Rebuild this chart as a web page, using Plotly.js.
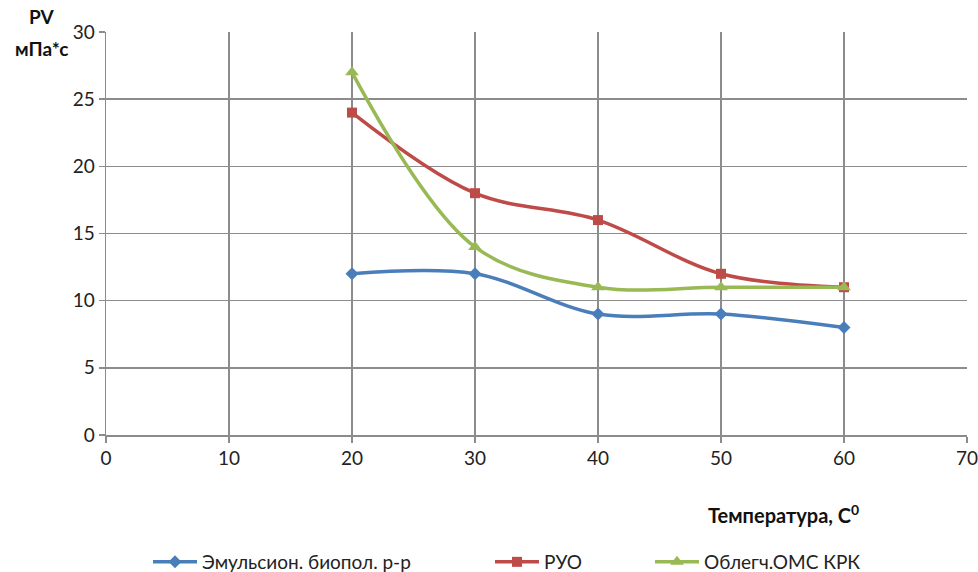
<!DOCTYPE html>
<html><head><meta charset="utf-8">
<script src="https://cdn.plot.ly/plotly-3.0.1.min.js"></script>
<style>body{margin:0;background:#fff}#c{width:978px;height:572px}</style>
</head><body><div id="c"></div>
<script>
const temps = [20, 30, 40, 50, 60];
const emulsion = [12, 12, 9, 9, 8];
const ruo = [24, 18, 16, 12, 11];
const oblegch = [27, 14, 11, 11, 11];
const names = ['Эмульсион. биопол. р-р', 'РУО', 'Облегч.ОМС КРК'];
const colors = ['#4A7EBB', '#BE4B48', '#98B954'];
const symbols = ['diamond', 'square', 'triangle-up'];
const series = [emulsion, ruo, oblegch];
const font = 'Lato, "Open Sans", sans-serif';

const traces = series.map((ys, i) => ({
  x: temps, y: ys, name: names[i], type: 'scatter', mode: 'lines+markers',
  line: {color: colors[i], width: 3.5, shape: 'spline', smoothing: 1},
  marker: {color: colors[i], symbol: symbols[i], size: i === 2 ? 12 : 10},
  legend: i === 0 ? 'legend' : 'legend' + (i + 1)
}));

const legBase = {orientation: 'h', xref: 'container', yref: 'container', yanchor: 'middle',
  y: (572 - 562) / 572, font: {family: font, size: 19, color: '#222'}, bgcolor: 'rgba(0,0,0,0)', itemwidth: 44};

const plotTop = 32, plotBottom = 435, plotLeft = 106, plotW = 861;
const py = p => (plotBottom - p) / (plotBottom - plotTop);
const px = p => (p - plotLeft) / plotW;

const layout = {
  width: 978, height: 572,
  margin: {l: 106, r: 11, t: 32, b: 137, autoexpand: false},
  paper_bgcolor: '#fff', plot_bgcolor: '#fff',
  font: {family: font, size: 19, color: '#222'},
  showlegend: true,
  legend: Object.assign({}, legBase, {x: 148 / 978}),
  legend2: Object.assign({}, legBase, {x: 490 / 978}),
  legend3: Object.assign({}, legBase, {x: 650 / 978}),
  xaxis: {range: [0, 70], dtick: 10, tick0: 0, showgrid: true, gridcolor: '#8c8c8c', gridwidth: 1.5,
    showline: true, linecolor: '#8c8c8c', linewidth: 1.5, zeroline: false, automargin: false,
    ticks: 'outside', ticklen: 6, tickcolor: '#8c8c8c', tickwidth: 1.5, ticklabeloverflow: 'allow',
    tickfont: {family: font, size: 19, color: '#222'}},
  yaxis: {range: [0, 30], dtick: 5, tick0: 0, showgrid: true, gridcolor: '#8c8c8c', gridwidth: 1.5,
    showline: true, linecolor: '#8c8c8c', linewidth: 1.5, zeroline: false, automargin: false,
    ticks: 'outside', ticklen: 6, tickcolor: '#8c8c8c', tickwidth: 1.5, ticklabeloverflow: 'allow',
    tickfont: {family: font, size: 19, color: '#222'}},
  annotations: [
    {text: '<b>PV</b>', xref: 'paper', yref: 'paper', x: px(42), y: py(16),
      xanchor: 'center', yanchor: 'middle', showarrow: false,
      font: {family: font, size: 19, color: '#111'}},
    {text: '<b>мПа*с</b>', xref: 'paper', yref: 'paper', x: px(42), y: py(49),
      xanchor: 'center', yanchor: 'middle', showarrow: false,
      font: {family: font, size: 19, color: '#111'}},
    {text: '<b>Температура, С<sup>0</sup></b>', xref: 'paper', yref: 'paper', x: px(783), y: py(514),
      xanchor: 'center', yanchor: 'middle', showarrow: false,
      font: {family: font, size: 20, color: '#111'}}
  ]
};
Plotly.newPlot('c', traces, layout, {displayModeBar: false, staticPlot: true});
</script></body></html>
